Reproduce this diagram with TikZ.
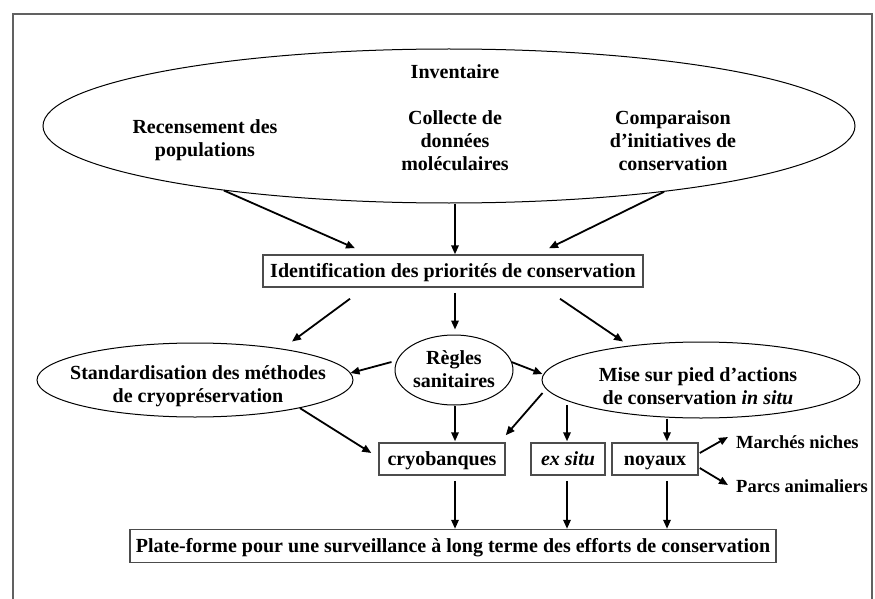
\documentclass[tikz,border=0pt]{standalone}
\usepackage{fontspec}
\setmainfont{Liberation Serif}
\usetikzlibrary{shapes.geometric,arrows.meta}
\tikzset{
  lbl/.style={font=\fontsize{20}{23}\selectfont\bfseries, align=center, inner sep=0pt},
  sidelbl/.style={font=\fontsize{18.5}{21}\selectfont\bfseries, inner sep=0pt, anchor=west},
  oval/.style={ellipse, draw=black, line width=1pt, inner sep=0pt},
  boxn/.style={rectangle, draw=black!70, line width=1.5pt, inner sep=0pt, minimum height=32pt,
               text height=16pt, text depth=3pt,
               font=\fontsize{20}{23}\selectfont\bfseries},
  arr/.style={line width=1.8pt, -{Triangle[length=9pt,width=7.5pt]}},
  framel/.style={draw=black!62, line width=2pt}
}
\begin{document}
\begin{tikzpicture}[x=1pt,y=-1pt]
\useasboundingbox (0,0) rectangle (875,599);
\draw[framel] (13,600) -- (13,14) -- (872,14) -- (872,600);

% big ellipse
\node[oval, minimum width=812pt, minimum height=154pt] (big) at (449,126) {};
\node[lbl] (inv) at (455,72) {Inventaire};
\node[lbl] (rec) at (205,140) {Recensement des\\populations};
\node[lbl] (col) at (455,141) {Collecte de\\données\\moléculaires};
\node[lbl] (comp) at (673,141) {Comparaison\\d’initiatives de\\conservation};

% identification
\node[boxn, minimum width=380pt] (ident) at (453,271) {Identification des priorités de conservation};

% second row ellipses
\node[oval, minimum width=316pt, minimum height=74pt] (std) at (195,380) {};
\node[lbl] (stdt) at (198,386) {Standardisation des méthodes\\de cryopréservation};
\node[oval, minimum width=118pt, minimum height=70pt] (reg) at (454,370) {};
\node[lbl] (regt) at (454,369) {Règles\\sanitaires};
\node[oval, minimum width=318pt, minimum height=76pt] (mise) at (701,380) {};
\node[lbl] (miset) at (698,386) {Mise sur pied d’actions\\de conservation \textit{in situ}};

% third row boxes
\node[boxn, minimum width=126pt] (cryo) at (442,459) {cryobanques};
\node[boxn, minimum width=74pt] (exs) at (568,459) {\textit{ex situ}};
\node[boxn, minimum width=86pt] (noy) at (655,459) {noyaux};
\node[sidelbl] (march) at (736,442) {Marchés niches};
\node[sidelbl] (parcs) at (736,486) {Parcs animaliers};

% platform
\node[boxn, minimum width=646pt, minimum height=33pt] (plat) at (453,546) {Plate-forme pour une surveillance à long terme des efforts de conservation};

% arrows big -> ident
\draw[arr] (big.196.8) -- ([shift={(-98,-6)}]ident.north);
\draw[arr] ([shift={(2,0)}]ident.north |- big.south) -- ([shift={(2,0)}]ident.north);
\draw[arr] (big.343.5) -- ([shift={(96,-6)}]ident.north);

% ident -> row 2
\draw[arr] ([shift={(-103,11)}]ident.south) -- ([shift={(97,-1)}]std.north);
\draw[arr] ([shift={(2,5)}]ident.south) -- ([shift={(1,-5)}]reg.north);
\draw[arr] ([shift={(107,11)}]ident.south) -- ([shift={(-78,0)}]mise.north);

% regles
\draw[arr] ([shift={(-3,-8)}]reg.west) -- ([shift={(-3,-7)}]std.east);
\draw[arr] ([shift={(-2,-8)}]reg.east) -- ([shift={(1,-6)}]mise.west);
\draw[arr] ([shift={(1,0)}]reg.south) -- ([shift={(13,-1)}]cryo.north);

% std, mise -> row 3
\draw[arr] (std.345) -- ([shift={(-7,-6)}]cryo.west);
\draw[arr] ([shift={(1,13)}]mise.west) -- ([shift={(0,-7)}]cryo.north east);
\draw[arr] ([shift={(-134,25)}]mise.center) -- ([shift={(-1,-1)}]exs.north);
\draw[arr] ([shift={(-34,0)}]mise.south) -- ([shift={(12,-1)}]noy.north);

% noyaux -> side labels
\draw[arr] ([shift={(1,-6)}]noy.east) -- ([shift={(-8,-5)}]march.west);
\draw[arr] ([shift={(1,9)}]noy.east) -- ([shift={(-8,-1)}]parcs.west);

% row 3 -> platform
\draw[arr] ([shift={(13,5)}]cryo.south) -- ([shift={(2,0)}]plat.north);
\draw[arr] ([shift={(-1,5)}]exs.south) -- ([shift={(114,0)}]plat.north);
\draw[arr] ([shift={(12,5)}]noy.south) -- ([shift={(214,0)}]plat.north);
\end{tikzpicture}
\end{document}
